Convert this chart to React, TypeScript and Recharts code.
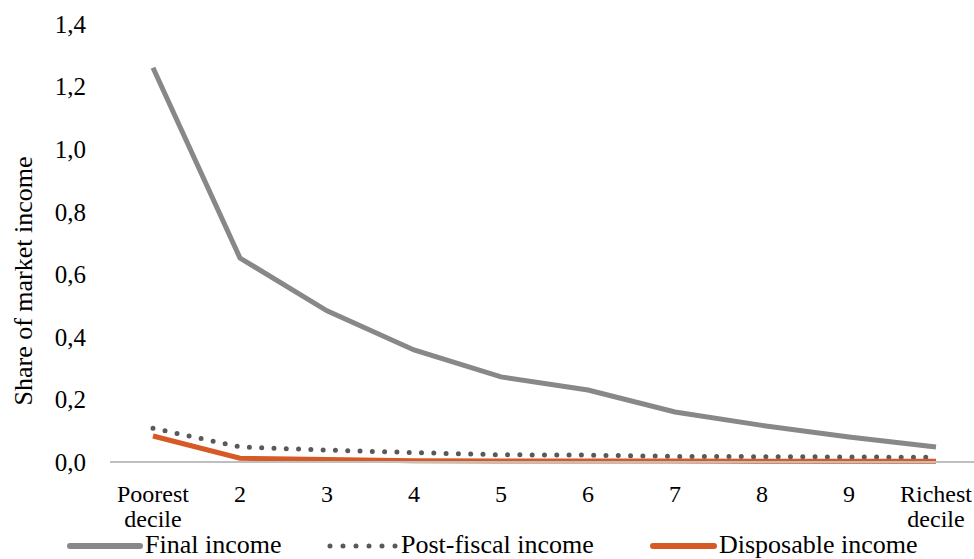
import { Legend, Line, LineChart, XAxis, YAxis } from "recharts";

const categories = ["Poorest decile", "2", "3", "4", "5", "6", "7", "8", "9", "Richest decile"];
const finalIncome = [1.26, 0.652, 0.483, 0.358, 0.272, 0.23, 0.16, 0.117, 0.08, 0.048];
const postFiscalIncome = [0.108, 0.048, 0.038, 0.03, 0.023, 0.022, 0.018, 0.017, 0.016, 0.015];
const disposableIncome = [0.083, 0.012, 0.008, 0.004, 0.003, 0.003, 0.003, 0.002, 0.002, 0.002];
const yTicks = [0, 0.2, 0.4, 0.6, 0.8, 1.0, 1.2, 1.4];

const data = categories.map((name, i) => ({
  name,
  final: finalIncome[i],
  postFiscal: postFiscalIncome[i],
  disposable: disposableIncome[i],
}));

const FONT = "'Liberation Serif', 'Times New Roman', serif";
const GRAY = "#87888a";
const DOTS = "#595959";
const ORANGE = "#d65a26";

// legend item placement
const legendLeft: Record<string, number> = { final: 67, postFiscal: 327, disposable: 650 };
const legendIcon: Record<string, number> = { final: 76, postFiscal: 72, disposable: 67 };

function XTick(props: any) {
  const { x, y, payload } = props;
  const parts = String(payload.value).split(" ");
  return (
    <text x={x} y={y + 32} textAnchor="middle" fontFamily={FONT} fontSize={24} fill="#000">
      <tspan x={x}>{parts[0]}</tspan>
      {parts[1] && (
        <tspan x={x} dy={25}>
          {parts[1]}
        </tspan>
      )}
    </text>
  );
}

function LegendContent(props: any) {
  const items = props.payload || [];
  return (
    <div style={{ position: "relative", height: 30, fontFamily: FONT, fontSize: 26 }}>
      {items.map((item: any) => {
        const key = item.dataKey as string;
        const w = legendIcon[key];
        return (
          <div
            key={key}
            style={{ position: "absolute", left: legendLeft[key], top: 0, display: "flex", alignItems: "center", height: 30, whiteSpace: "nowrap" }}
          >
            <svg width={w} height={10} style={{ marginTop: 4 }}>
              {key === "postFiscal" ? (
                <line x1={3} y1={5} x2={w - 3} y2={5} stroke={DOTS} strokeWidth={5} strokeDasharray="0 13" strokeLinecap="round" />
              ) : (
                <line x1={3} y1={5} x2={w - 3} y2={5} stroke={item.color} strokeWidth={6} strokeLinecap="round" />
              )}
            </svg>
            <span style={{ position: "relative", top: 1, marginLeft: 2 }}>{item.value}</span>
          </div>
        );
      })}
    </div>
  );
}

function YLabel() {
  return (
    <text
      x={23}
      y={281}
      transform="rotate(-90, 23, 281)"
      textAnchor="middle"
      dominantBaseline="central"
      fontFamily={FONT}
      fontSize={26}
      fill="#000"
    >
      Share of market income
    </text>
  );
}

export default function App() {
  return (
    <div style={{ position: "absolute", left: 0, top: 0, width: 974, height: 559, overflow: "hidden", background: "#fff" }}>
      <LineChart width={974} height={559} data={data} margin={{ top: 24, right: 0, bottom: 0, left: 0 }}>
        <XAxis
          dataKey="name"
          tickLine={false}
          axisLine={{ stroke: "#bfbfbf", strokeWidth: 2 }}
          height={67}
          padding={{ left: 43, right: 38 }}
          interval={0}
          tick={<XTick />}
        />
        <YAxis
          width={110}
          domain={[0, 1.4]}
          ticks={yTicks}
          axisLine={false}
          tickLine={false}
          tickMargin={18}
          tick={{ fontFamily: FONT, fontSize: 25, fill: "#000" }}
          tickFormatter={(v: number) => v.toFixed(1).replace(".", ",")}
          label={<YLabel />}
        />
        <Legend verticalAlign="bottom" height={30} content={<LegendContent />} />
        <Line
          dataKey="final"
          name="Final income"
          stroke={GRAY}
          strokeWidth={5}
          dot={false}
          activeDot={false}
          isAnimationActive={false}
        />
        <Line
          dataKey="postFiscal"
          name="Post-fiscal income"
          stroke={DOTS}
          strokeWidth={5}
          strokeDasharray="0 12.3"
          strokeLinecap="round"
          dot={false}
          activeDot={false}
          isAnimationActive={false}
        />
        <Line
          dataKey="disposable"
          name="Disposable income"
          stroke={ORANGE}
          strokeWidth={5}
          dot={false}
          activeDot={false}
          isAnimationActive={false}
        />
      </LineChart>
    </div>
  );
}
